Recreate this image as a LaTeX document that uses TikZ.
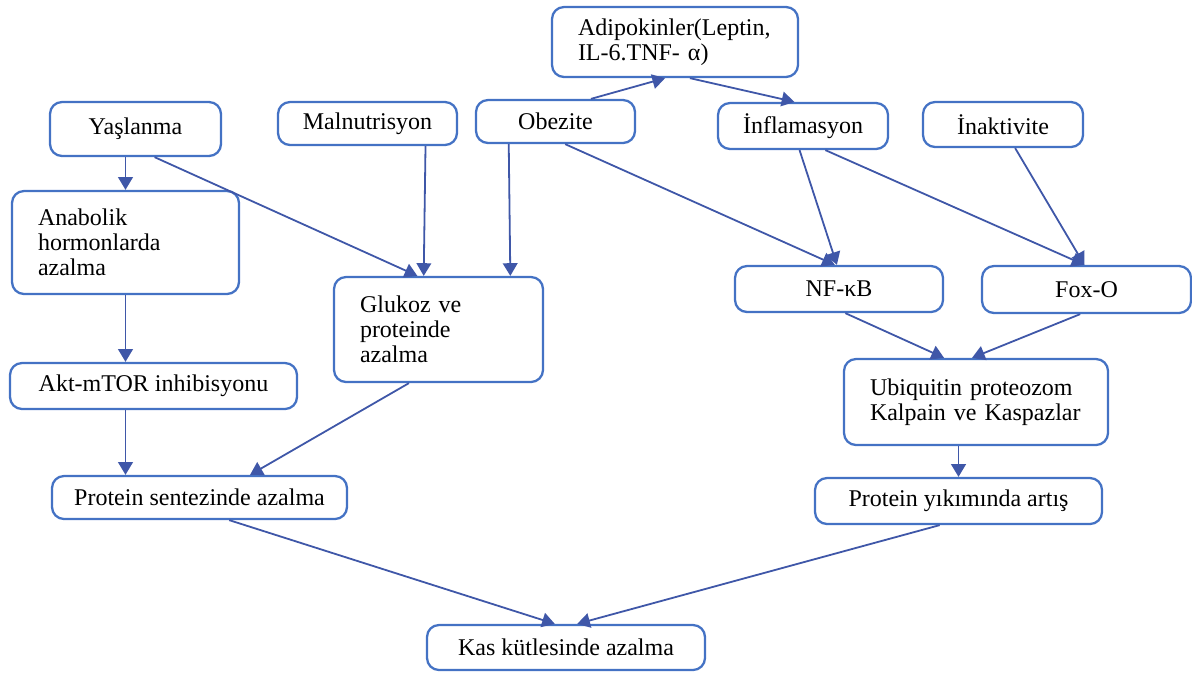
\documentclass[tikz,border=0pt]{standalone}
\usepackage{fontspec}
\setmainfont{Liberation Serif}
\usetikzlibrary{arrows.meta, positioning, calc}
\definecolor{boxblue}{RGB}{68,114,196}
\definecolor{arrowblue}{RGB}{63,87,168}

\begin{document}
\begin{tikzpicture}[x=0.75pt, y=-0.75pt,
  box/.style={draw=boxblue, line width=1.7pt, rounded corners=9pt, fill=white,
    inner sep=0pt, text=black, font=\fontsize{18}{18.75}\selectfont},
  multi/.style={box, align=left, inner xsep=19.5pt},
  arr/.style={draw=arrowblue, line width=1.35pt, -{Triangle[length=9.5pt, width=11pt]}}]
\useasboundingbox (0,0) rectangle (1192,672);

% top row
\node[multi, text width=145.5pt, minimum height=52.5pt] (adi) at (675,42)
  {Adipokinler(Leptin,\\IL-6.TNF- α)};
\node[box, minimum width=128.25pt, minimum height=40.5pt] (yas) at (135.5,129) {Yaşlanma};
\node[box, minimum width=134.25pt, minimum height=32.25pt] (mal) at (367.5,123.5) {Malnutrisyon};
\node[box, minimum width=119.25pt, minimum height=32.25pt] (obe) at (555.5,121.5) {Obezite};
\node[box, minimum width=127.5pt, minimum height=34.5pt] (inf) at (803,126) {İnflamasyon};
\node[box, minimum width=120pt, minimum height=33.75pt] (ina) at (1003,124.5) {İnaktivite};

% middle
\node[multi, text width=131.25pt, minimum height=77.25pt] (ana) at (125.5,242.5)
  {Anabolik\\hormonlarda\\azalma};
\node[multi, text width=117.75pt, minimum height=78.75pt] (glu) at (438.5,329.5)
  {Glukoz ve\\proteinde\\azalma};
\node[box, minimum width=156pt, minimum height=34.5pt] (nfkb) at (839,289) {NF-κB};
\node[box, minimum width=156.75pt, minimum height=35.25pt] (foxo) at (1086.5,289.5) {Fox-O};
\node[multi, text width=159pt, minimum height=64.5pt] (ubi) at (976,402)
  {Ubiquitin proteozom\\Kalpain ve Kaspazlar};
\node[box, minimum width=215.25pt, minimum height=34.5pt] (akt) at (153.5,386) {Akt-mTOR inhibisyonu};

% bottom
\node[box, minimum width=221.25pt, minimum height=32.25pt] (psen) at (199.5,497.5) {Protein sentezinde azalma};
\node[box, minimum width=215.25pt, minimum height=34.5pt] (pyik) at (958.5,501) {Protein yıkımında artış};
\node[box, minimum width=208.5pt, minimum height=33.75pt] (kas) at (566,647.5) {Kas kütlesinde azalma};

% left branch
\draw[arr] (yas.south -| ana.north) -- (ana.north);
\draw[arr] ($(yas.south west)!0.61!(yas.south east)$) -- ($(glu.north west)!0.40!(glu.north east)$);
\draw[arr] ($(mal.south west)!0.82!(mal.south east)$) -- ($(glu.north west)!0.43!(glu.north east)$);
\draw[arr] ($(obe.south west)!0.21!(obe.south east)$) -- ($(glu.north west)!0.84!(glu.north east)$);
\draw[arr] (ana.south) -- (ana.south |- akt.north);
\draw[arr] (akt.south -| ana.south) -- (ana.south |- psen.north);
\draw[arr] ($(glu.south west)!0.36!(glu.south east)$) -- ($(psen.north west)!0.67!(psen.north east)$);

% obesity and inflammation
\draw[arr] ($(obe.north west)!0.72!(obe.north east)$) -- ($(adi.south west)!0.46!(adi.south east)$);
\draw[arr] ($(adi.south west)!0.56!(adi.south east)$) -- ($(inf.north west)!0.45!(inf.north east)$);
\draw[arr] ($(obe.south west)!0.56!(obe.south east)$) -- ($(nfkb.north west)!0.48!(nfkb.north east)$);
\draw[arr] ($(inf.south west)!0.48!(inf.south east)$) -- ($(nfkb.north west)!0.49!(nfkb.north east)$);
\draw[arr] ($(inf.south west)!0.63!(inf.south east)$) -- ($(foxo.north west)!0.49!(foxo.north east)$);
\draw[arr] ($(ina.south west)!0.575!(ina.south east)$) -- ($(foxo.north west)!0.49!(foxo.north east)$);

% right branch
\draw[arr] ($(nfkb.south west)!0.53!(nfkb.south east)$) -- ($(ubi.north west)!0.38!(ubi.north east)$);
\draw[arr] ($(foxo.south west)!0.47!(foxo.south east)$) -- ($(ubi.north west)!0.485!(ubi.north east)$);
\draw[arr] (ubi.south -| pyik.north) -- (pyik.north);

% to the result
\draw[arr] ($(psen.south west)!0.60!(psen.south east)$) -- ($(kas.north west)!0.46!(kas.north east)$);
\draw[arr] ($(pyik.south west)!0.435!(pyik.south east)$) -- ($(kas.north west)!0.54!(kas.north east)$);
\end{tikzpicture}
\end{document}
